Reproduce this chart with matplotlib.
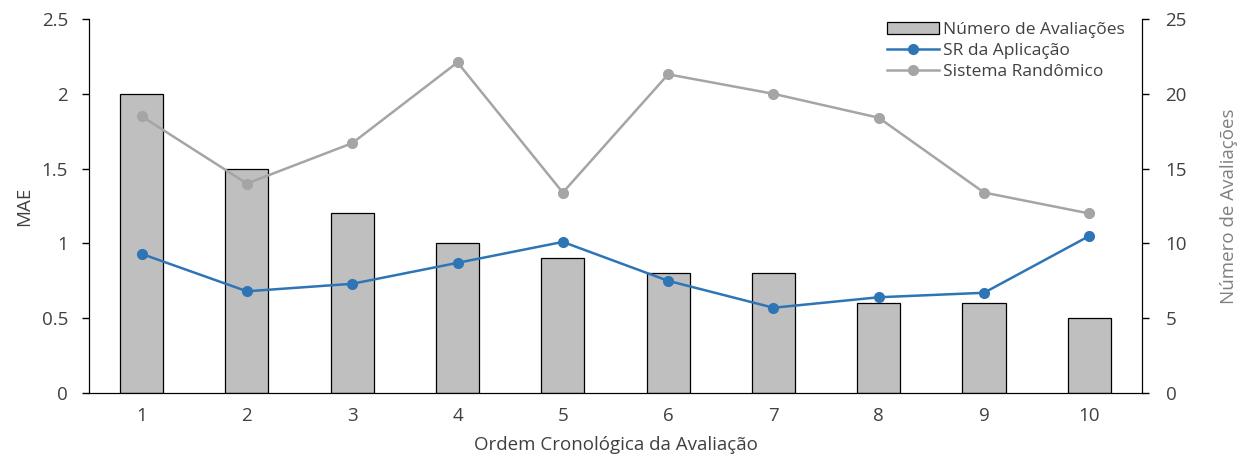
import matplotlib.pyplot as plt

plt.rcParams['font.family'] = ['Open Sans', 'DejaVu Sans']

ordem = ['1', '2', '3', '4', '5', '6', '7', '8', '9', '10']
num_avaliacoes = [20, 15, 12, 10, 9, 8, 8, 6, 6, 5]
mae_sr = [0.93, 0.68, 0.73, 0.87, 1.01, 0.75, 0.57, 0.64, 0.67, 1.05]
mae_random = [1.85, 1.40, 1.67, 2.21, 1.34, 2.13, 2.00, 1.84, 1.34, 1.20]

text_color = '#404040'
pos = list(range(len(ordem)))

fig = plt.figure(figsize=(12.44, 4.70), dpi=100)
ax1 = fig.add_axes([0.0715, 0.1638, 0.8465, 0.7958])
ax2 = ax1.twinx()

# Bars on the secondary axis (count), drawn behind the lines
ax2.set_zorder(0)
ax1.set_zorder(1)
ax1.patch.set_visible(False)
bars = ax2.bar(pos, num_avaliacoes, width=0.41, color='#bfbfbf', edgecolor='black',
               linewidth=0.9, label='Número de Avaliações')
ax2.set_ylim(0, 25)
ax2.set_yticks([0, 5, 10, 15, 20, 25])
ax2.set_ylabel('Número de Avaliações', color='#808080', fontsize=13.5, labelpad=24)

l1 = ax1.plot(pos, mae_sr, color='#2e75b6', linewidth=1.8, marker='o', markersize=7,
              label='SR da Aplicação')
l2 = ax1.plot(pos, mae_random, color='#a5a5a5', linewidth=1.8, marker='o', markersize=7,
              label='Sistema Randômico')
ax1.set_ylim(0, 2.5)
ax1.set_yticks([0, 0.5, 1, 1.5, 2, 2.5])
ax1.set_yticklabels(['0', '0.5', '1', '1.5', '2', '2.5'])
ax1.set_xlim(-0.5, len(ordem) - 0.5)
ax1.set_xticks(pos)
ax1.set_xticklabels(ordem)
ax1.set_ylabel('MAE', color=text_color, fontsize=13.5, labelpad=6)
ax1.set_xlabel('Ordem Cronológica da Avaliação', color=text_color, fontsize=13.5, labelpad=8)

for ax in (ax1, ax2):
    ax.spines['top'].set_visible(False)
    ax.tick_params(labelsize=13.5, labelcolor=text_color, length=5, width=1)
ax1.tick_params(axis='x', length=0, pad=10)
ax1.tick_params(axis='y', pad=10)
ax2.tick_params(axis='y', pad=12)

handles = [bars] + l1 + l2
ax1.legend(handles, [h.get_label() for h in handles], loc='upper right',
           bbox_to_anchor=(0.998, 1.035), frameon=False, fontsize=12.5,
           handlelength=3.0, handletextpad=0.2, labelspacing=0.3, labelcolor=text_color)

fig.savefig('out.png', dpi=100)
